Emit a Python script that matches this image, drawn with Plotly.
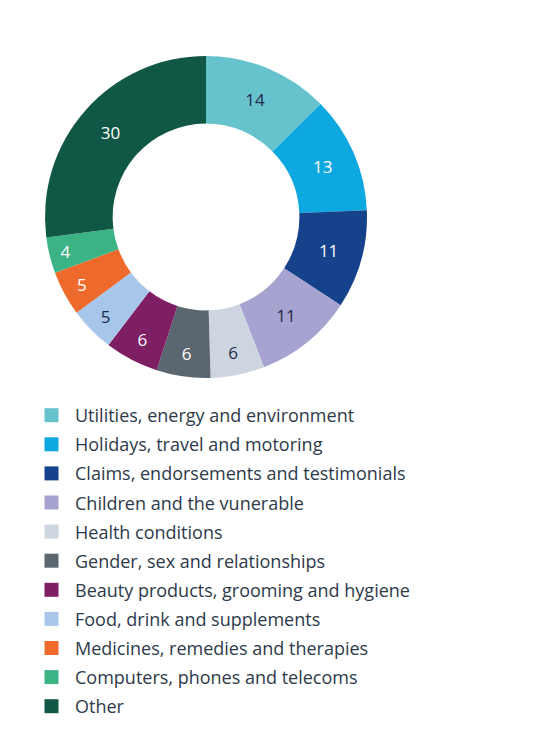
import plotly.graph_objects as go

W, H = 555, 734

labels = [
    "Utilities, energy and environment",
    "Holidays, travel and motoring",
    "Claims, endorsements and testimonials",
    "Children and the vunerable",
    "Health conditions",
    "Gender, sex and relationships",
    "Beauty products, grooming and hygiene",
    "Food, drink and supplements",
    "Medicines, remedies and therapies",
    "Computers, phones and telecoms",
    "Other",
]
values = [14, 13, 11, 11, 6, 6, 6, 5, 5, 4, 30]
colors = ["#66c2cc", "#0ea8e0", "#15428a", "#a7a3d0", "#cdd5e1", "#5b6770",
          "#7e1e63", "#a8c6ea", "#ee6a2c", "#3bb384", "#105845"]
dark = "#1e2a4a"
text_colors = [dark, "white", "white", dark, dark, "white",
               "white", dark, "white", "white", "white"]

# pie box in pixels (left, top, size)
px0, py0, size = 37, 48, 322

fig = go.Figure(go.Pie(
    labels=labels,
    values=values,
    sort=False,
    direction="clockwise",
    rotation=0,
    hole=0.58,
    marker=dict(colors=colors, line=dict(width=0)),
    texttemplate="%{value}",
    textposition="inside",
    insidetextorientation="horizontal",
    textfont=dict(size=17, color=text_colors, family="Open Sans"),
    domain=dict(x=[px0 / W, (px0 + size) / W],
                y=[1 - (py0 + size) / H, 1 - py0 / H]),
    showlegend=False,
))

# legend entries as empty square-marker traces so the rows can be spaced out
for lab, col in zip(labels, colors):
    fig.add_trace(go.Scatter(
        x=[None], y=[None], mode="markers", name=lab, legendgroup=lab,
        marker=dict(symbol="square", size=14, color=col),
    ))

fig.update_layout(
    width=W, height=H,
    margin=dict(l=0, r=0, t=0, b=0),
    paper_bgcolor="white",
    plot_bgcolor="white",
    font=dict(family="Open Sans", color="#2d3a4a"),
    xaxis=dict(visible=False),
    yaxis=dict(visible=False),
    legend=dict(
        x=20 / W, xanchor="left",
        y=1 - 389 / H, yanchor="top",
        font=dict(size=18, color="#2d3a4a"),
        traceorder="grouped",
        tracegroupgap=2.7,
        itemwidth=37,
        bgcolor="rgba(0,0,0,0)",
    ),
)

fig.write_html("out.html")
